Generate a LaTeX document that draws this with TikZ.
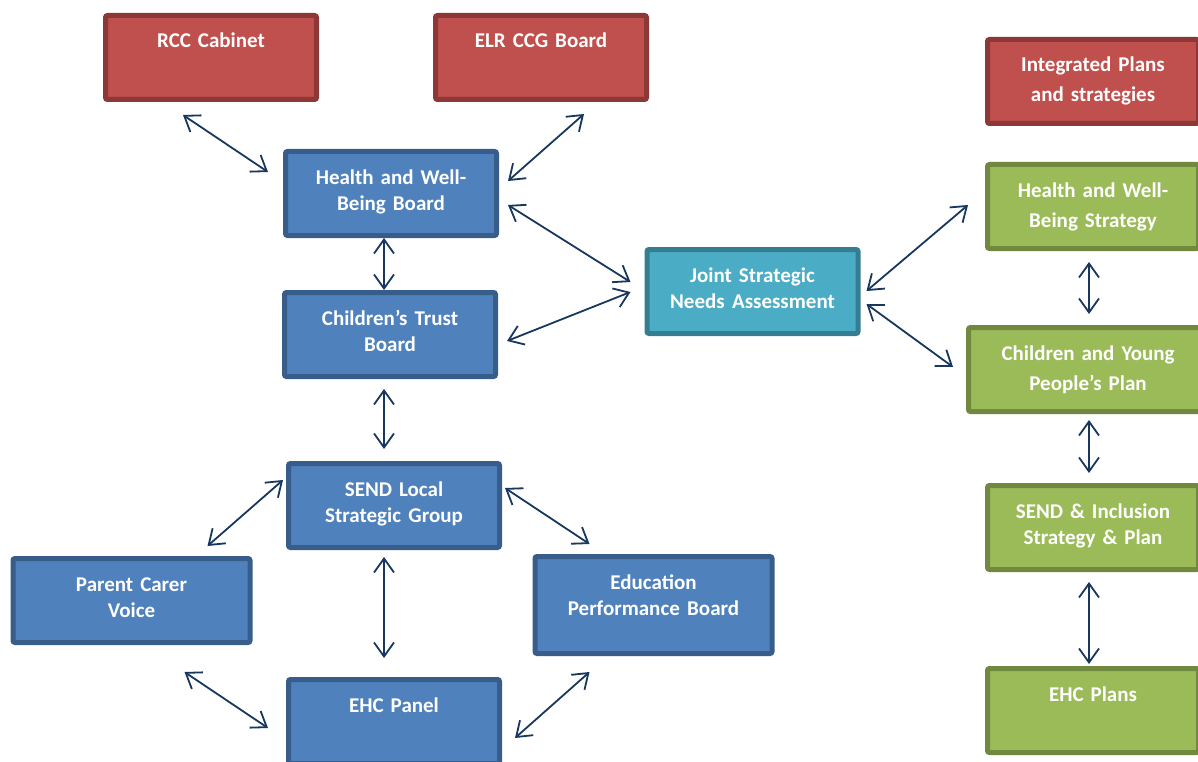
\documentclass[tikz,border=0pt]{standalone}
\usepackage{fontspec}
\setmainfont{Carlito}
\usepackage{xcolor}
\definecolor{bred}{RGB}{192,80,77}
\definecolor{dred}{RGB}{140,56,54}
\definecolor{bblue}{RGB}{79,129,189}
\definecolor{dblue}{RGB}{56,93,138}
\definecolor{bteal}{RGB}{75,172,198}
\definecolor{dteal}{RGB}{53,125,145}
\definecolor{bgreen}{RGB}{155,187,89}
\definecolor{dgreen}{RGB}{113,137,63}
\definecolor{navy}{RGB}{23,55,94}
\usepackage{tikz}
\usetikzlibrary{arrows.meta,positioning}

\begin{document}
\begin{tikzpicture}[
  x=1pt, y=-1pt,
  orgbox/.style={rectangle,draw,line width=5pt,rounded corners=2pt,anchor=north,
    minimum width=211pt,inner sep=0pt,outer sep=0pt,text width=205pt,align=center,
    text=white,font=\bfseries\fontsize{21}{26}\selectfont,
    text height=32.5pt,text depth=51.5pt},
  loose/.style={font=\bfseries\fontsize{21}{30}\selectfont},
  widebox/.style={minimum width=237pt,text width=231pt},
  redbox/.style={fill=bred,draw=dred},
  bluebox/.style={fill=bblue,draw=dblue},
  tealbox/.style={fill=bteal,draw=dteal},
  greenbox/.style={fill=bgreen,draw=dgreen},
  link/.style={<->,>={Straight Barb[length=14pt,width=20pt]},line width=1.8pt,navy}
]
  \useasboundingbox (0,0) rectangle (1198,762);

  % boards
  \node[orgbox,redbox] (rcc) at (211,15.5) {RCC Cabinet};
  \node[orgbox,redbox] (elr) at (541,15.5) {ELR CCG Board};
  \node[orgbox,bluebox] (hwb) at (391,151.5) {Health and Well-\\Being Board};
  \node[orgbox,bluebox] (ctb) at (390,292.5) {Children’s Trust\\Board};
  \node[orgbox,tealbox] (jsna) at (752.5,249.5) {Joint Strategic\\Needs\hspace{0.35em}Assessment};
  \node[orgbox,bluebox] (slsg) at (394,463.5) {SEND Local\\Strategic\hspace{0.35em}Group};
  \node[orgbox,bluebox,widebox] (pcv) at (131.5,558.5) {Parent Carer\\Voice};
  \node[orgbox,bluebox,widebox,text depth=64.5pt] (epb) at (653.5,556.5) {Education\\Performance\hspace{0.35em}Board};
  \node[orgbox,bluebox] (ehcp) at (394,679.5) {EHC Panel};

  % plans column
  \node[orgbox,redbox,loose] (ipl) at (1093,39.5) {Integrated Plans\\and strategies};
  \node[orgbox,greenbox,loose] (hws) at (1093,164.5) {Health and Well-\\Being Strategy};
  \node[orgbox,greenbox,loose,minimum width=239pt,text width=233pt] (cypp) at (1088,327.5) {Children and Young\\People’s Plan};
  \node[orgbox,greenbox] (sip) at (1093,485.5) {SEND \& Inclusion\\Strategy \& Plan};
  \node[orgbox,greenbox] (ehcpl) at (1093,668.5) {EHC Plans};

  % links
  \draw[link] ([shift={(-28,15.5)}]rcc.south) -- ([shift={(-17.5,20.5)}]hwb.north west);
  \draw[link] ([shift={(43,14.5)}]elr.south) -- ([shift={(11.5,29.5)}]hwb.north east);
  \draw[link] ([shift={(-7,2.5)}]hwb.south) -- ([shift={(-6,-2.5)}]ctb.north);
  \draw[link] ([shift={(11.5,11.5)}]hwb.east) -- ([shift={(-16.5,-9.5)}]jsna.west);
  \draw[link] ([shift={(11.5,6.5)}]ctb.east) -- ([shift={(-16.5,0.5)}]jsna.west);
  \draw[link] ([shift={(-6,12.5)}]ctb.south) -- ([shift={(-10,-14.5)}]slsg.north);
  \draw[link] ([shift={(-5.5,16.5)}]slsg.north west) -- ([shift={(-42.5,-12.5)}]pcv.north east);
  \draw[link] ([shift={(-65.5,29.5)}]pcv.south east) -- ([shift={(-20.5,48.5)}]ehcp.north west);
  \draw[link] ([shift={(5.5,24.5)}]slsg.north east) -- ([shift={(54.5,-12.5)}]epb.north west);
  \draw[link] ([shift={(54.5,18.5)}]epb.south west) -- ([shift={(15.5,58.5)}]ehcp.north east);
  \draw[link] ([shift={(-10,9.5)}]slsg.south) -- ([shift={(-10,-21.5)}]ehcp.north);
  \draw[link] ([shift={(8.5,-0.5)}]jsna.east) -- ([shift={(-19.5,-1.5)}]hws.west);
  \draw[link] ([shift={(8.5,12.5)}]jsna.east) -- ([shift={(-15.5,-2.5)}]cypp.west);
  \draw[link] ([shift={(-4,13.5)}]hws.south) -- ([shift={(1,-13.5)}]cypp.north);
  \draw[link] ([shift={(1,8.5)}]cypp.south) -- ([shift={(-4,-12.5)}]sip.north);
  \draw[link] ([shift={(-4,12.5)}]sip.south) -- ([shift={(-4,-4.5)}]ehcpl.north);
\end{tikzpicture}
\end{document}
